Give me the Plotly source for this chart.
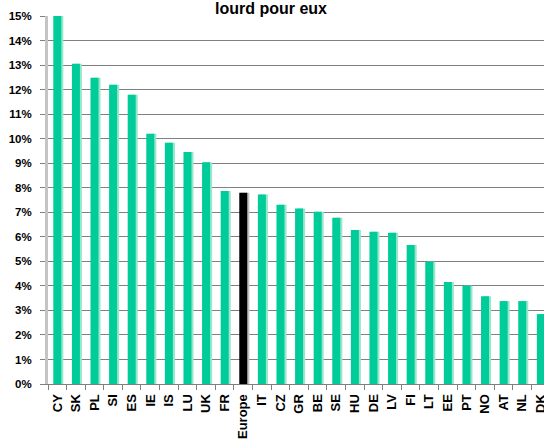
import plotly.graph_objects as go

countries = ["CY", "SK", "PL", "SI", "ES", "IE", "IS", "LU", "UK", "FR", "Europe",
             "IT", "CZ", "GR", "BE", "SE", "HU", "DE", "LV", "FI", "LT", "EE",
             "PT", "NO", "AT", "NL", "DK"]
values = [15.0, 13.05, 12.48, 12.2, 11.79, 10.2, 9.83, 9.46, 9.04, 7.87, 7.8,
          7.72, 7.31, 7.15, 7.02, 6.78, 6.28, 6.21, 6.16, 5.67, 4.98, 4.16,
          4.0, 3.58, 3.38, 3.38, 2.85]
title_text = "lourd pour eux"

GREEN = "#00CC99"
GREEN_SHADOW = "#99E6CC"
colors = ["#000000" if c == "Europe" else GREEN for c in countries]
shadow_colors = ["#C0C0C0" if c == "Europe" else GREEN_SHADOW for c in countries]

bw = 0.43
fig = go.Figure()
fig.add_trace(go.Bar(x=countries, y=values, marker=dict(color=shadow_colors, line=dict(width=0)),
                     width=bw, offset=-bw / 2 + 0.11, hoverinfo="skip", showlegend=False))
fig.add_trace(go.Bar(x=countries, y=values, marker=dict(color=colors, line=dict(width=0)),
                     width=bw, offset=-bw / 2, showlegend=False))

font_family = "Liberation Sans, Arial, sans-serif"
fig.update_layout(
    width=544, height=446,
    margin=dict(l=48, r=0, t=16, b=62, autoexpand=False),
    paper_bgcolor="white", plot_bgcolor="white",
    barmode="overlay",
    font=dict(family=font_family, color="black"),
    annotations=[dict(text=title_text, xref="paper", yref="paper", x=0.4496, y=1,
                      xanchor="center", yanchor="bottom", showarrow=False, yshift=-3,
                      font=dict(size=16, weight="bold", family=font_family, color="black"))],
)
fig.update_xaxes(
    type="category", range=[-0.5, 26.17], automargin=False,
    tickangle=-90, tickfont=dict(size=13, weight="bold"),
    ticks="outside", tickson="boundaries", ticklen=5, tickcolor="#808080",
    showline=True, linecolor="#808080", linewidth=1, showgrid=False,
    ticklabelstandoff=4,
)
fig.update_yaxes(
    range=[0, 15], dtick=1, ticksuffix="%", automargin=False,
    tickfont=dict(size=11.5, weight="bold"),
    ticks="outside", ticklen=5, tickcolor="#808080",
    showline=True, linecolor="#C4C4C4", linewidth=3,
    showgrid=True, gridcolor="#808080", gridwidth=1, zeroline=False,
    ticklabelstandoff=6,
)
fig.write_html("out.html", config={"displayModeBar": False},
               post_script="document.body.style.margin='0';")
